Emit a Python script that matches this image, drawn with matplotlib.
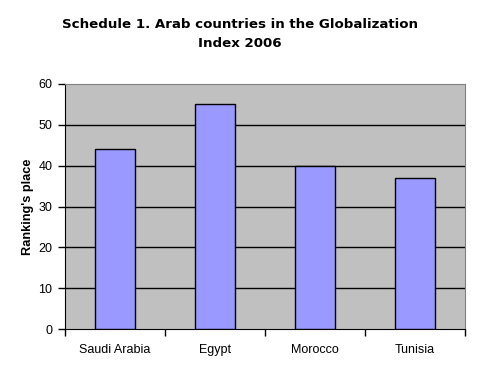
import matplotlib
matplotlib.use("Agg")
import matplotlib.pyplot as plt
import numpy as np

categories = ["Saudi Arabia", "Egypt", "Morocco", "Tunisia"]
values = [44, 55, 40, 37]
yticks = [0, 10, 20, 30, 40, 50, 60]

fig = plt.figure(figsize=(4.8, 3.75), dpi=100)
ax = fig.add_axes([65/480, 46/375, 400/480, 245/375])
ax.set_facecolor("#C0C0C0")

x = np.arange(len(categories))
ax.bar(x, values, width=0.4, color="#9999FF", edgecolor="black", linewidth=1, zorder=3)
ax.set_xlim(-0.5, len(categories) - 0.5)
ax.set_ylim(0, 60)
ax.set_yticks(yticks)
for t in yticks[1:-1]:
    ax.axhline(t, color="black", linewidth=1, zorder=1)

ax.set_xticks(np.arange(-0.5, len(categories), 1.0))
ax.set_xticklabels([])
ax.set_xticks(x, minor=True)
ax.set_xticklabels(categories, minor=True, fontsize=9, family="Liberation Sans")
ax.tick_params(axis="x", which="minor", length=0, pad=11)
ax.tick_params(axis="x", which="major", length=5, width=1, color="black")
ax.tick_params(axis="y", length=5, width=1, labelsize=9, pad=4)
for lbl in ax.get_yticklabels():
    lbl.set_family("Liberation Sans")

for s in ["top", "right"]:
    ax.spines[s].set_color("#808080")
for s in ["left", "bottom"]:
    ax.spines[s].set_color("black")

ax.set_ylabel("Ranking's place", fontsize=9.2, fontweight="bold", family="Liberation Sans", labelpad=3)

fig.text(240/480, 1 - 34/375, "Schedule 1. Arab countries in the Globalization\nIndex 2006",
         ha="center", va="center", fontsize=9.6, fontweight="bold", family="DejaVu Sans",
         linespacing=1.55)

fig.savefig("out.png", dpi=100)
